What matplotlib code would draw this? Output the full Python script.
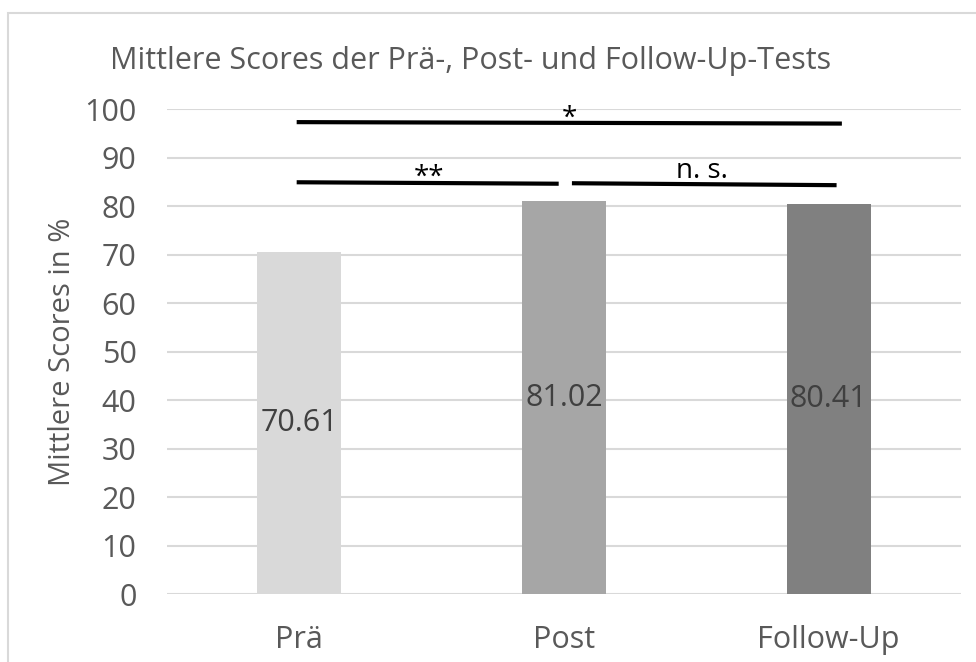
import matplotlib.pyplot as plt
from matplotlib.patches import Rectangle

# Mean test scores per test phase
categories = ['Prä', 'Post', 'Follow-Up']
scores = [70.61, 81.02, 80.41]
bar_colors = ['#D9D9D9', '#A6A6A6', '#808080']

# Significance brackets: (x0, x1, y0, y1, label, label_x, label_y)
brackets = [
    (-0.01, 2.05, 97.3, 97.0, '*', 1.02, 98.0),
    (-0.01, 0.98, 84.9, 84.6, '**', 0.49, 85.9),
    (1.03, 2.03, 84.7, 84.3, 'n. s.', 1.52, 87.3),
]

plt.rcParams['font.family'] = ['Open Sans', 'DejaVu Sans']

fig = plt.figure(figsize=(9.76, 6.62), dpi=100)
ax = fig.add_axes([0.1711, 0.1027, 0.8135, 0.7326])

# Chart frame
fig.patches.append(Rectangle((7.5 / 976, -0.05), 1.1, 1.05 - 13.5 / 662,
                             transform=fig.transFigure, fill=False,
                             edgecolor='#D9D9D9', lw=1.5))

# Bars with centred value labels
x = range(len(categories))
ax.bar(x, scores, width=0.317, color=bar_colors, zorder=3)
for xi, val in zip(x, scores):
    ax.text(xi, val / 2, f'{val:.2f}', ha='center', va='center',
            fontsize=22, color='#404040', zorder=4)

# Significance lines
for x0, x1, y0, y1, lab, lx, ly in brackets:
    ax.plot([x0, x1], [y0, y1], color='black', lw=3, solid_capstyle='butt',
            zorder=5, clip_on=False)
    ax.text(lx, ly, lab, ha='center', va='center', fontsize=20,
            color='black', zorder=5, clip_on=False)

ax.set_xlim(-0.5, 2.5)
ax.set_ylim(0, 100)
ax.set_yticks(range(0, 101, 10))
ax.set_xticks(list(x))
ax.set_xticklabels(categories)
ax.grid(axis='y', color='#D9D9D9', lw=1.5, zorder=0)
for s in ax.spines.values():
    s.set_visible(False)
ax.tick_params(axis='both', length=0, labelsize=22, labelcolor='#595959')
ax.tick_params(axis='y', pad=22)
ax.tick_params(axis='x', pad=22)

ax.set_ylabel('Mittlere Scores in %', fontsize=21, color='#595959')
ax.yaxis.set_label_coords(-0.113, 0.5)

fig.text(471 / 976, 1 - 61 / 662, 'Mittlere Scores der Prä-, Post- und Follow-Up-Tests',
         ha='center', va='center', fontsize=22, color='#595959')

fig.savefig('out.png', dpi=100)
